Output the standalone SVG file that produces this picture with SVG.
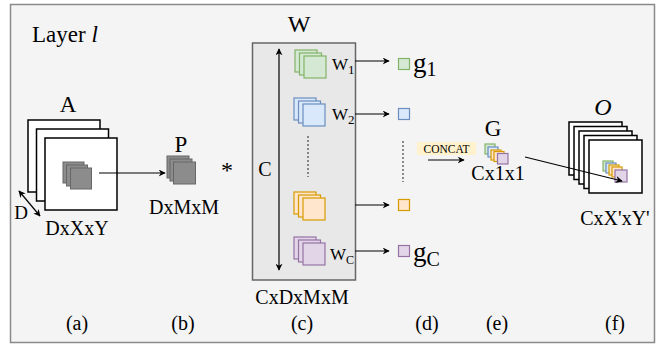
<svg xmlns="http://www.w3.org/2000/svg" width="663" height="347" viewBox="0 0 663 347">
<defs>
<style>
text{font-family:"Liberation Serif","Times New Roman",serif;fill:#000}
.lbl{font-size:20px;text-anchor:middle}
.big{font-size:23px;text-anchor:middle}
.wh{fill:#fff;stroke:#000;stroke-width:1.5}
.gr{fill:#8c8c8c;stroke:#666;stroke-width:1}
.grn{fill:#d5e8d4;stroke:#82b366;stroke-width:1.2}
.blu{fill:#dae8fc;stroke:#6c8ebf;stroke-width:1.2}
.org{fill:#ffe6cc;stroke:#d79b00;stroke-width:1.2}
.pur{fill:#e1d5e7;stroke:#9673a6;stroke-width:1.2}
.ln{stroke:#000;stroke-width:1.2;fill:none}
.dot{stroke:#666;stroke-width:1.5;stroke-dasharray:2 2;fill:none}
</style>
<marker id="ah" viewBox="0 0 10 10" refX="9" refY="5" markerWidth="7" markerHeight="7" orient="auto-start-reverse" markerUnits="userSpaceOnUse">
<path d="M0,0 L10,5 L0,10 L3,5 Z" fill="#000"/>
</marker>
</defs>
<rect x="10.5" y="4.5" width="644" height="338" fill="#f4f4f4" stroke="#8a8a8a" stroke-width="1.5"/>
<text x="32" y="42" font-size="23">Layer <tspan font-style="italic">l</tspan></text>

<g id="A">
<text x="68" y="112" class="big">A</text>
<rect x="28" y="120" width="72" height="72" class="wh"/>
<rect x="36.5" y="129" width="72" height="72" class="wh"/>
<rect x="45" y="138" width="72" height="72" class="wh"/>
<rect x="63" y="162" width="21" height="21" class="gr"/>
<rect x="66.5" y="165" width="21" height="21" class="gr"/>
<rect x="70.5" y="168" width="21" height="21" class="gr"/>
<text x="21" y="219" font-size="19" text-anchor="middle">D</text>
<text x="77" y="235" class="lbl">DxXxY</text>
</g>

<g id="P">
<text x="181" y="152" class="big">P</text>
<rect x="167" y="156" width="22" height="22" class="gr"/>
<rect x="170" y="159" width="22" height="22" class="gr"/>
<rect x="173.5" y="162" width="22" height="22" class="gr"/>
<text x="184" y="214" class="lbl">DxMxM</text>
<text x="227" y="178" font-size="24" text-anchor="middle">*</text>
</g>

<g id="W">
<text x="299" y="32" font-size="24" text-anchor="middle">W</text>
<rect x="252.5" y="43" width="103" height="237" fill="#e8e8e8" stroke="#666" stroke-width="1.5"/>
<text x="265" y="176" class="lbl">C</text>
<rect x="295" y="50" width="22" height="22" class="grn"/>
<rect x="299.5" y="53" width="22" height="22" class="grn"/>
<rect x="304" y="56" width="22" height="22" class="grn"/>
<text x="332" y="70" font-size="17">W<tspan font-size="13" dy="4">1</tspan></text>
<rect x="294" y="98" width="22" height="22" class="blu"/>
<rect x="298.5" y="101" width="22" height="22" class="blu"/>
<rect x="303" y="104" width="22" height="22" class="blu"/>
<text x="332" y="120" font-size="17">W<tspan font-size="13" dy="4">2</tspan></text>
<line x1="308" y1="136" x2="308" y2="177" class="dot"/>
<rect x="294" y="192" width="22" height="22" class="org"/>
<rect x="298.5" y="195" width="22" height="22" class="org"/>
<rect x="303" y="198" width="22" height="22" class="org"/>
<rect x="294" y="237" width="22" height="22" class="pur"/>
<rect x="298.5" y="240" width="22" height="22" class="pur"/>
<rect x="303" y="243" width="22" height="22" class="pur"/>
<text x="330" y="260" font-size="17">W<tspan font-size="12" dy="4">C</tspan></text>
<text x="302" y="304" class="lbl">CxDxMxM</text>
</g>

<g id="g">
<rect x="398.5" y="58.5" width="11" height="11" class="grn"/>
<text x="413" y="72" font-size="27">g<tspan font-size="20" dy="4">1</tspan></text>
<rect x="398.5" y="108.5" width="11" height="11" class="blu"/>
<line x1="403" y1="141" x2="403" y2="182" class="dot"/>
<rect x="398.5" y="199.5" width="11" height="11" class="org"/>
<rect x="398.5" y="245.5" width="11" height="11" class="pur"/>
<text x="413" y="261" font-size="27">g<tspan font-size="20" dy="5">C</tspan></text>
</g>

<g id="concat">
<rect x="417" y="142" width="59" height="13" fill="#fff2cc"/>
<text x="446.5" y="153" font-size="11.5" text-anchor="middle">CONCAT</text>
</g>

<g id="G">
<text x="493" y="136" class="big">G</text>
<rect x="485" y="144" width="10" height="10" class="grn"/>
<rect x="488" y="147" width="10" height="10" class="blu"/>
<rect x="491" y="150" width="10" height="10" class="org"/>
<rect x="494" y="151.5" width="10" height="10" class="org"/>
<rect x="497.5" y="153.5" width="10.5" height="10.5" class="pur"/>
<text x="498" y="180" class="lbl">Cx1x1</text>
</g>

<g id="O">
<text x="603" y="115" font-size="24" font-style="italic" text-anchor="middle">O</text>
<rect x="569" y="122" width="53" height="53" class="wh"/>
<rect x="574" y="126.5" width="53" height="53" class="wh"/>
<rect x="579" y="131" width="53" height="53" class="wh"/>
<rect x="584" y="135.5" width="53" height="53" class="wh"/>
<rect x="589" y="140" width="53" height="53" class="wh"/>
<rect x="603" y="161" width="10" height="10" class="grn"/>
<rect x="606" y="163" width="10" height="10" class="blu"/>
<rect x="609" y="165" width="10" height="10" class="org"/>
<rect x="612" y="167" width="10" height="10" class="org"/>
<rect x="615" y="170" width="12" height="12" class="pur"/>
<text x="615" y="225" class="lbl">CxX'xY'</text>
</g>

<g id="connectors">
<line x1="99" y1="173" x2="165" y2="173" class="ln" marker-end="url(#ah)"/>
<line x1="19" y1="191" x2="40" y2="216" class="ln" marker-start="url(#ah)" marker-end="url(#ah)"/>
<line x1="279" y1="49" x2="279" y2="270" class="ln" marker-start="url(#ah)" marker-end="url(#ah)"/>
<line x1="355" y1="61" x2="389" y2="61" class="ln" marker-end="url(#ah)"/>
<line x1="355" y1="114" x2="389" y2="114" class="ln" marker-end="url(#ah)"/>
<line x1="355" y1="205" x2="389" y2="205" class="ln" marker-end="url(#ah)"/>
<line x1="355" y1="251" x2="389" y2="251" class="ln" marker-end="url(#ah)"/>
<line x1="428" y1="160" x2="464" y2="160" class="ln" marker-end="url(#ah)"/>
<line x1="525" y1="157" x2="622" y2="181" class="ln" marker-end="url(#ah)"/>
</g>

<g id="captions">
<text x="77" y="330" class="lbl">(a)</text>
<text x="183" y="330" class="lbl">(b)</text>
<text x="302" y="330" class="lbl">(c)</text>
<text x="427" y="330" class="lbl">(d)</text>
<text x="497" y="330" class="lbl">(e)</text>
<text x="615" y="330" class="lbl">(f)</text>
</g>
</svg>
